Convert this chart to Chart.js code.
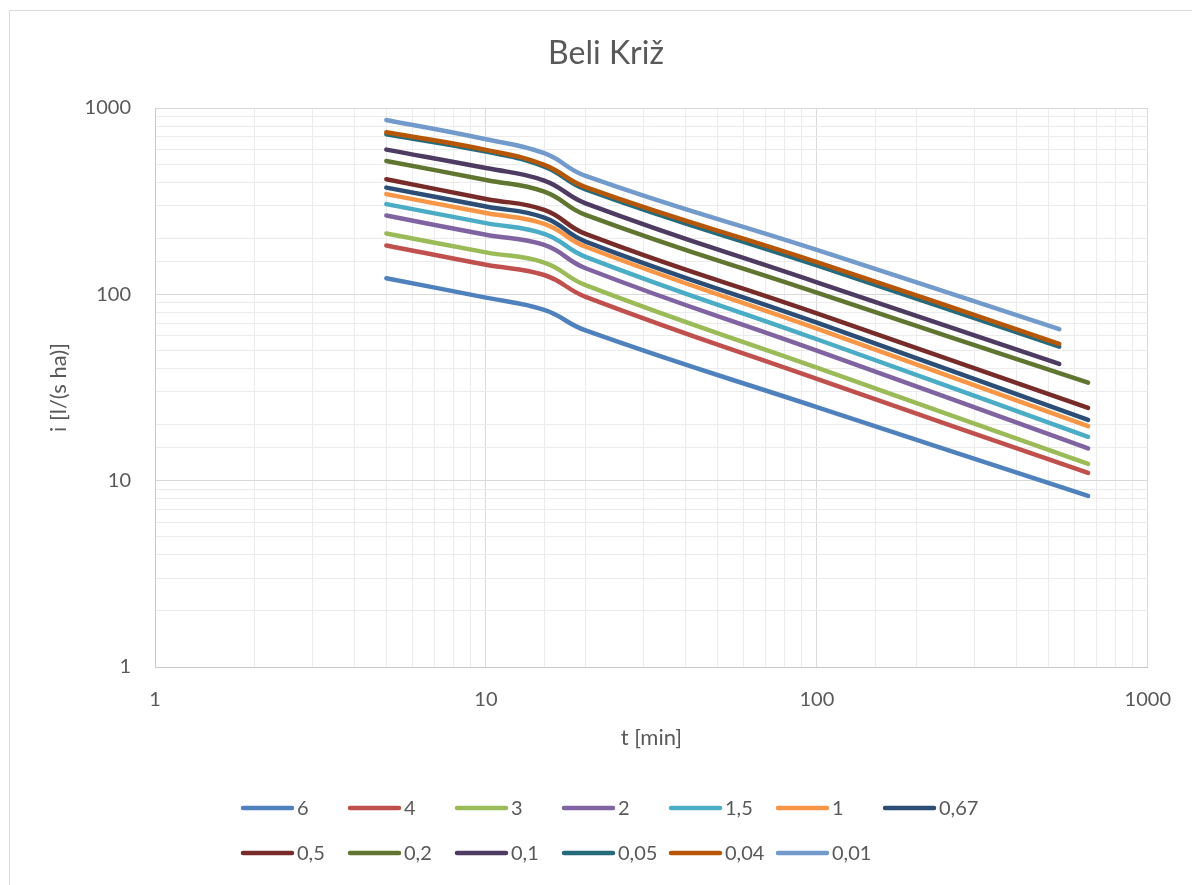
<!DOCTYPE html>
<html>
<head>
<meta charset="utf-8">
<title>Beli Križ</title>
<script src="https://cdn.jsdelivr.net/npm/chart.js@4.4.0/dist/chart.umd.min.js"></script>
<style>
  html, body { margin: 0; padding: 0; background: #fff; }
  canvas { display: block; }
</style>
</head>
<body>
<canvas id="chart" width="1192" height="885"></canvas>
<script>
// durations t [min]
const tShort = [5, 10, 15, 20, 100, 540];
const tLong = [5, 10, 15, 20, 100, 660];

// intensity i [l/(s ha)], one array per return period
const i6 = [122, 96, 82.5, 64, 24.8, 8.28];
const i4 = [183, 144, 127, 97, 35.2, 11.0];
const i3 = [212, 168, 148, 112, 40.4, 12.3];
const i2 = [265, 209, 184, 138, 49.9, 14.9];
const i1_5 = [305, 241, 211, 159, 57.4, 17.2];
const i1 = [345, 273, 239, 180, 65.4, 19.6];
const i0_67 = [374, 296, 258, 192, 70.5, 21.2];
const i0_5 = [415, 325, 284, 211, 79, 24.6];
const i0_2 = [520, 411, 356, 267, 102, 33.6];
const i0_1 = [598, 476, 408, 308, 116, 42.3];
const i0_05 = [723, 583, 485, 366, 143, 52.4];
const i0_04 = [741, 596, 495, 376, 149, 54.2];
const i0_01 = [863, 680, 572, 432, 173, 65.0];

const seriesNames = ['6', '4', '3', '2', '1,5', '1', '0,67', '0,5', '0,2', '0,1', '0,05', '0,04', '0,01'];
const seriesValues = [i6, i4, i3, i2, i1_5, i1, i0_67, i0_5, i0_2, i0_1, i0_05, i0_04, i0_01];
const seriesTimes = [tLong, tLong, tLong, tLong, tLong, tLong, tLong, tLong, tLong, tShort, tShort, tShort, tShort];

// decade tick labels on both axes
const decadeTicks = [1, 10, 100, 1000];

const chartTitle = 'Beli Križ';

const colors = ['#4F81BD', '#C0504D', '#9BBB59', '#8064A2', '#4BACC6', '#F79646', '#2C4D75',
                '#772C2A', '#5F7530', '#4D3B62', '#276A7C', '#B65708', '#729ACA'];

const FONT = 'Lato, "DejaVu Sans", sans-serif';
const TEXT = '#595959';

const datasets = seriesNames.map((name, k) => ({
  label: name,
  data: seriesValues[k].map((v, j) => ({ x: seriesTimes[k][j], y: v })),
  borderColor: colors[k],
  backgroundColor: colors[k],
  borderWidth: 4.5,
  borderCapStyle: 'round',
  borderJoinStyle: 'round',
  pointRadius: 0,
  tension: 0.45,
  fill: false,
  order: seriesNames.length - k, // later series on top, like Excel
}));

const gridColor = (c) => (c.tick && decadeTicks.includes(c.tick.value)) ? '#d9d9d9' : '#ebebeb';
const tickLabel = (v) => decadeTicks.includes(v) ? String(v) : '';

// frame, title and a legend laid out in fixed columns (Excel style)
const framePlugin = {
  id: 'frame',
  beforeDraw(chart) {
    const ctx = chart.ctx;
    ctx.save();
    ctx.strokeStyle = '#d9d9d9';
    ctx.lineWidth = 1;
    ctx.beginPath();
    ctx.moveTo(9.5, 885);
    ctx.lineTo(9.5, 10.5);
    ctx.lineTo(1192, 10.5);
    ctx.stroke();
    ctx.font = '32px ' + FONT;
    ctx.fillStyle = TEXT;
    ctx.textAlign = 'center';
    ctx.textBaseline = 'middle';
    ctx.fillText(chartTitle, 606, 54);
    ctx.restore();
  },
  afterDraw(chart) {
    const ctx = chart.ctx;
    const cols = 7, colW = 107, x0 = 241, rowY = [808, 853];
    ctx.save();
    ctx.font = '20px ' + FONT;
    ctx.textBaseline = 'middle';
    ctx.fillStyle = TEXT;
    chart.data.datasets.forEach((ds, k) => {
      const x = x0 + (k % cols) * colW;
      const y = rowY[Math.floor(k / cols)];
      ctx.strokeStyle = ds.borderColor;
      ctx.lineWidth = 4.5;
      ctx.lineCap = 'round';
      ctx.beginPath();
      ctx.moveTo(x + 2, y);
      ctx.lineTo(x + 51, y);
      ctx.stroke();
      ctx.fillText(ds.label, x + 56, y + 1);
    });
    ctx.restore();
  }
};

const ctx = document.getElementById('chart').getContext('2d');
new Chart(ctx, {
  type: 'line',
  data: { datasets },
  options: {
    responsive: false,
    animation: false,
    layout: { padding: { left: 0, right: 19, top: 108, bottom: 123 } },
    plugins: {
      legend: { display: false },
      tooltip: { enabled: false },
      title: { display: false },
    },
    scales: {
      x: {
        type: 'logarithmic',
        min: 1,
        max: 1000,
        afterFit: (s) => { s.height = 95; },
        border: { color: '#c8c8c8' },
        grid: { color: gridColor, drawTicks: false },
        ticks: {
          autoSkip: false,
          maxRotation: 0,
          padding: 21,
          color: TEXT,
          font: { family: FONT, size: 20 },
          callback: tickLabel,
        },
        title: {
          display: true,
          text: 't [min]',
          color: TEXT,
          font: { family: FONT, size: 22 },
          padding: { top: 0, bottom: 11 },
        },
      },
      y: {
        type: 'logarithmic',
        min: 1,
        max: 1000,
        afterFit: (s) => { s.width = 155; },
        border: { color: '#c8c8c8' },
        grid: { color: gridColor, drawTicks: false },
        ticks: {
          autoSkip: false,
          padding: 24,
          color: TEXT,
          font: { family: FONT, size: 20 },
          callback: tickLabel,
        },
        title: {
          display: true,
          text: 'i [l/(s ha)]',
          color: TEXT,
          font: { family: FONT, size: 22 },
          padding: { top: 46, bottom: 0 },
        },
      },
    },
  },
  plugins: [framePlugin],
});
</script>
</body>
</html>
